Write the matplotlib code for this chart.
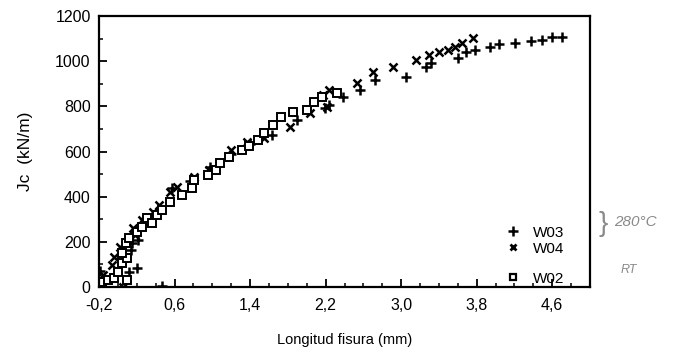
import matplotlib
matplotlib.use("Agg")
import matplotlib.pyplot as plt
from matplotlib.ticker import MultipleLocator, FixedLocator
from matplotlib.lines import Line2D

plt.rcParams['font.family'] = ['Liberation Sans', 'DejaVu Sans']

# W03 (+)
w03_x = [-0.19, 0.12, 0.20, 0.14, 0.15, 0.21, 0.47, 0.57, 0.76, 0.98, 1.20, 1.40, 1.63,
         1.90, 2.19, 2.24, 2.38, 2.56, 2.72, 3.05, 3.26, 3.32, 3.60, 3.69, 3.78, 3.94,
         4.04, 4.21, 4.38, 4.49, 4.60, 4.70]
w03_y = [70, 66, 84, 164, 195, 208, 5, 439, 470, 530, 590, 632, 673,
         740, 793, 806, 842, 873, 917, 930, 975, 992, 1014, 1041, 1050, 1063,
         1076, 1081, 1090, 1094, 1107, 1107]

# W04 (x)
w04_x = [-0.16, -0.06, -0.04, 0.02, 0.05, 0.16, 0.18, 0.26, 0.28, 0.37, 0.44, 0.55, 0.63,
         0.81, 0.97, 1.20, 1.37, 1.55, 1.82, 2.03, 2.17, 2.21, 2.24, 2.53, 2.70, 2.91,
         3.16, 3.30, 3.40, 3.50, 3.57, 3.64, 3.76]
w04_y = [53, 97, 133, 177, 0, 261, 230, 297, 288, 332, 363, 421, 443,
         487, 518, 607, 640, 660, 709, 771, 851, 797, 873, 904, 952, 975,
         1006, 1028, 1041, 1050, 1063, 1081, 1103]

# W02 (squares)
w02_x = [-0.17, -0.11, -0.04, 0.00, 0.04, 0.10, 0.10, 0.04, 0.09, 0.12, 0.20, 0.25, 0.31,
         0.36, 0.41, 0.47, 0.55, 0.68, 0.78, 0.81, 0.95, 1.04, 1.08, 1.18, 1.31, 1.39,
         1.48, 1.55, 1.64, 1.73, 1.85, 2.00, 2.08, 2.16, 2.32]
w02_y = [22, 31, 40, 66, 106, 31, 128, 151, 195, 217, 244, 266, 306,
         284, 319, 341, 377, 408, 439, 474, 496, 518, 549, 576, 607, 625,
         651, 682, 718, 753, 775, 784, 820, 842, 859]

x_ticks = [-0.2, 0.6, 1.4, 2.2, 3.0, 3.8, 4.6]
x_tick_labels = ["-0,2", "0,6", "1,4", "2,2", "3,0", "3,8", "4,6"]
y_ticks = [0, 200, 400, 600, 800, 1000, 1200]

fig = plt.figure(figsize=(6.75, 3.52), dpi=100)
ax = fig.add_axes([0.1467, 0.1847, 0.7274, 0.7698])

ax.plot(w03_x, w03_y, linestyle='none', marker='+', markersize=7.5, markeredgewidth=1.8, color='black')
ax.plot(w04_x, w04_y, linestyle='none', marker='x', markersize=6, markeredgewidth=1.8, color='black')
ax.plot(w02_x, w02_y, linestyle='none', marker='s', markersize=6.2, markeredgewidth=1.4,
        markerfacecolor='white', markeredgecolor='black')

ax.set_xlim(-0.2, 5.0)
ax.set_ylim(0, 1200)
ax.xaxis.set_major_locator(FixedLocator(x_ticks))
ax.set_xticklabels(x_tick_labels)
ax.xaxis.set_minor_locator(MultipleLocator(0.2))
ax.set_yticks(y_ticks)
ax.yaxis.set_minor_locator(MultipleLocator(100))

ax.tick_params(axis='both', which='major', direction='in', length=6, width=1.3, labelsize=11.5, pad=6)
ax.tick_params(axis='both', which='minor', direction='in', length=3, width=1.1)
ax.tick_params(axis='x', which='major', pad=8)
for s in ax.spines.values():
    s.set_linewidth(1.6)

ax.set_ylabel("Jc  (kN/m)", fontsize=12.5, labelpad=16)
ax.set_xlabel("Longitud fisura (mm)", fontsize=10.5, labelpad=14)

h03 = Line2D([], [], linestyle='none', marker='+', markersize=7, markeredgewidth=1.8, color='black')
h04 = Line2D([], [], linestyle='none', marker='x', markersize=5, markeredgewidth=2.0, color='black')
h02 = Line2D([], [], linestyle='none', marker='s', markersize=5, markeredgewidth=1.6,
             markerfacecolor='white', markeredgecolor='black')
leg1 = ax.legend([h03, h04], ["W03", "W04"], loc='lower left', bbox_to_anchor=(0.828, 0.115),
                 frameon=False, handlelength=1.0, handletextpad=0.8, labelspacing=0.15,
                 borderpad=0, borderaxespad=0, fontsize=11)
ax.add_artist(leg1)
ax.legend([h02], ["W02"], loc='lower left', bbox_to_anchor=(0.828, 0.005),
          frameon=False, handlelength=1.0, handletextpad=0.8,
          borderpad=0, borderaxespad=0, fontsize=11)

fig.text(0.886, 0.345, "}", fontsize=20, color='#8a8a8a')
fig.text(0.91, 0.358, "280°C", fontsize=11, color='#8a8a8a', style='italic')
fig.text(0.92, 0.225, "RT", fontsize=9, color='#8a8a8a', style='italic')

fig.savefig("out.png", dpi=100)
